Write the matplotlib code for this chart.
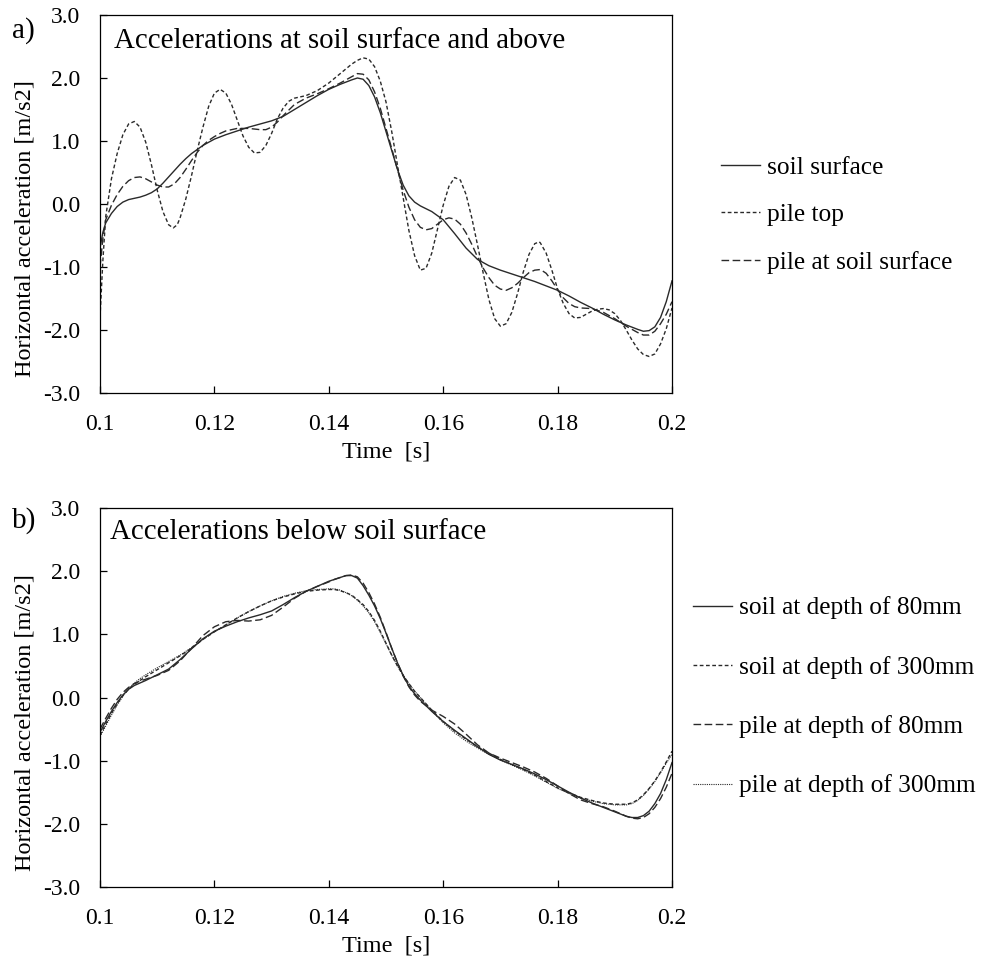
import matplotlib
matplotlib.use("Agg")
import matplotlib.pyplot as plt

plt.rcParams['font.family'] = ['Liberation Serif', 'DejaVu Serif']

# ---- panel a) accelerations at soil surface and above ----
t_soil_surf = [0.100, 0.1005, 0.101, 0.102, 0.103, 0.104, 0.105, 0.106, 0.107, 0.108,
               0.109, 0.110, 0.111, 0.112, 0.113, 0.114, 0.115, 0.116, 0.118, 0.120,
               0.122, 0.124, 0.126, 0.128, 0.130, 0.132, 0.134, 0.136, 0.138, 0.140,
               0.142, 0.144, 0.145, 0.146, 0.147, 0.148, 0.149, 0.150, 0.151, 0.152,
               0.153, 0.154, 0.155, 0.156, 0.158, 0.160, 0.162, 0.164, 0.166, 0.168,
               0.170, 0.172, 0.174, 0.176, 0.178, 0.180, 0.182, 0.184, 0.186, 0.188,
               0.190, 0.192, 0.194, 0.195, 0.196, 0.197, 0.198, 0.199, 0.200]
a_soil_surf = [-0.70, -0.45, -0.30, -0.15, -0.04, 0.03, 0.07, 0.09, 0.11, 0.14,
               0.18, 0.24, 0.33, 0.43, 0.53, 0.63, 0.72, 0.80, 0.93, 1.03,
               1.10, 1.16, 1.22, 1.27, 1.32, 1.39, 1.50, 1.61, 1.72, 1.82,
               1.90, 1.97, 2.00, 1.98, 1.88, 1.70, 1.45, 1.15, 0.85, 0.55,
               0.30, 0.13, 0.03, -0.03, -0.12, -0.25, -0.47, -0.70, -0.88, -0.98,
               -1.05, -1.11, -1.17, -1.23, -1.30, -1.37, -1.46, -1.56, -1.65, -1.75,
               -1.84, -1.92, -1.99, -2.02, -2.01, -1.95, -1.80, -1.55, -1.22]

t_pile_top = [0.100, 0.1005, 0.101, 0.102, 0.103, 0.104, 0.105, 0.106, 0.107, 0.108,
              0.109, 0.110, 0.111, 0.112, 0.1128, 0.1135, 0.114, 0.115, 0.116, 0.117,
              0.118, 0.119, 0.120, 0.121, 0.122, 0.123, 0.124, 0.125, 0.126, 0.127,
              0.128, 0.129, 0.130, 0.131, 0.132, 0.133, 0.134, 0.136, 0.138, 0.140,
              0.142, 0.144, 0.145, 0.146, 0.147, 0.148, 0.149, 0.150, 0.151, 0.152,
              0.153, 0.154, 0.155, 0.156, 0.157, 0.158, 0.159, 0.160, 0.161, 0.162,
              0.163, 0.164, 0.165, 0.166, 0.167, 0.168, 0.169, 0.170, 0.171, 0.172,
              0.173, 0.174, 0.175, 0.176, 0.1768, 0.177, 0.178, 0.179, 0.180, 0.181,
              0.182, 0.183, 0.184, 0.185, 0.186, 0.187, 0.188, 0.189, 0.190, 0.191,
              0.192, 0.193, 0.194, 0.195, 0.196, 0.197, 0.198, 0.199, 0.200]
a_pile_top = [-1.80, -0.90, -0.20, 0.40, 0.80, 1.10, 1.27, 1.31, 1.22, 0.98,
              0.62, 0.22, -0.12, -0.33, -0.38, -0.33, -0.22, 0.08, 0.45, 0.85,
              1.22, 1.55, 1.76, 1.82, 1.76, 1.58, 1.33, 1.08, 0.90, 0.81,
              0.82, 0.93, 1.12, 1.35, 1.52, 1.63, 1.68, 1.72, 1.80, 1.92,
              2.07, 2.22, 2.28, 2.32, 2.30, 2.18, 1.95, 1.62, 1.15, 0.62,
              0.10, -0.42, -0.82, -1.05, -1.02, -0.78, -0.40, -0.02, 0.28, 0.42,
              0.38, 0.15, -0.22, -0.65, -1.10, -1.52, -1.82, -1.94, -1.90, -1.72,
              -1.42, -1.08, -0.80, -0.63, -0.60, -0.62, -0.78, -1.05, -1.35, -1.58,
              -1.74, -1.81, -1.80, -1.75, -1.70, -1.67, -1.66, -1.68, -1.74, -1.85,
              -2.00, -2.16, -2.30, -2.39, -2.42, -2.38, -2.22, -1.98, -1.65]

t_pile_surf = [0.100, 0.1005, 0.101, 0.102, 0.103, 0.104, 0.105, 0.106, 0.107, 0.108,
               0.109, 0.110, 0.111, 0.112, 0.113, 0.114, 0.115, 0.116, 0.117, 0.118,
               0.119, 0.120, 0.121, 0.122, 0.124, 0.126, 0.128, 0.129, 0.130, 0.131,
               0.132, 0.134, 0.136, 0.138, 0.140, 0.142, 0.144, 0.145, 0.146, 0.147,
               0.148, 0.149, 0.150, 0.151, 0.152, 0.153, 0.154, 0.155, 0.156, 0.157,
               0.158, 0.159, 0.160, 0.161, 0.162, 0.163, 0.164, 0.165, 0.166, 0.167,
               0.168, 0.169, 0.170, 0.171, 0.172, 0.173, 0.174, 0.175, 0.176, 0.177,
               0.178, 0.179, 0.180, 0.181, 0.182, 0.183, 0.184, 0.186, 0.188, 0.190,
               0.192, 0.194, 0.195, 0.196, 0.197, 0.198, 0.199, 0.200]
a_pile_surf = [-1.00, -0.55, -0.25, -0.02, 0.15, 0.28, 0.37, 0.42, 0.43, 0.40,
               0.35, 0.30, 0.27, 0.27, 0.32, 0.42, 0.55, 0.69, 0.82, 0.93,
               1.01, 1.07, 1.12, 1.16, 1.20, 1.20, 1.18, 1.18, 1.22, 1.30,
               1.40, 1.58, 1.68, 1.75, 1.83, 1.92, 2.02, 2.07, 2.06, 1.97,
               1.78, 1.52, 1.20, 0.88, 0.55, 0.22, -0.05, -0.25, -0.37, -0.41,
               -0.39, -0.32, -0.25, -0.22, -0.24, -0.32, -0.46, -0.64, -0.84, -1.02,
               -1.17, -1.29, -1.35, -1.37, -1.33, -1.26, -1.17, -1.09, -1.05, -1.04,
               -1.10, -1.22, -1.36, -1.49, -1.58, -1.63, -1.65, -1.66, -1.72, -1.82,
               -1.94, -2.04, -2.08, -2.08, -2.02, -1.90, -1.75, -1.55]

# ---- panel b) accelerations below soil surface ----
t_below = [0.100, 0.101, 0.102, 0.103, 0.104, 0.105, 0.106, 0.107, 0.108, 0.110,
           0.112, 0.114, 0.116, 0.118, 0.120, 0.122, 0.124, 0.126, 0.128, 0.130,
           0.132, 0.134, 0.136, 0.138, 0.140, 0.141, 0.142, 0.143, 0.144, 0.145,
           0.146, 0.147, 0.148, 0.149, 0.150, 0.151, 0.152, 0.153, 0.154, 0.155,
           0.156, 0.158, 0.160, 0.162, 0.164, 0.166, 0.168, 0.170, 0.172, 0.174,
           0.176, 0.178, 0.180, 0.182, 0.184, 0.186, 0.188, 0.190, 0.192, 0.193,
           0.194, 0.195, 0.196, 0.197, 0.198, 0.199, 0.200]
a_soil_80 = [-0.55, -0.38, -0.22, -0.08, 0.04, 0.13, 0.19, 0.23, 0.27, 0.36,
             0.45, 0.60, 0.77, 0.93, 1.05, 1.13, 1.20, 1.26, 1.31, 1.37,
             1.47, 1.58, 1.68, 1.76, 1.84, 1.87, 1.90, 1.93, 1.93, 1.89,
             1.77, 1.62, 1.45, 1.25, 1.02, 0.78, 0.55, 0.35, 0.18, 0.06,
             -0.04, -0.22, -0.38, -0.52, -0.65, -0.78, -0.90, -0.99, -1.06, -1.13,
             -1.21, -1.30, -1.40, -1.50, -1.59, -1.67, -1.74, -1.81, -1.88, -1.90,
             -1.90, -1.87, -1.80, -1.68, -1.52, -1.30, -1.03]
a_soil_300 = [-0.60, -0.42, -0.25, -0.10, 0.03, 0.13, 0.21, 0.27, 0.33, 0.44,
              0.55, 0.66, 0.78, 0.92, 1.04, 1.15, 1.26, 1.36, 1.45, 1.53,
              1.59, 1.64, 1.68, 1.70, 1.71, 1.71, 1.69, 1.66, 1.62, 1.55,
              1.47, 1.36, 1.22, 1.05, 0.86, 0.67, 0.50, 0.35, 0.22, 0.10,
              0.00, -0.20, -0.38, -0.53, -0.66, -0.78, -0.88, -0.98, -1.06, -1.14,
              -1.23, -1.33, -1.43, -1.51, -1.58, -1.63, -1.67, -1.69, -1.69, -1.67,
              -1.62, -1.54, -1.44, -1.32, -1.18, -1.02, -0.85]
a_pile_80 = [-0.50, -0.33, -0.17, -0.03, 0.08, 0.16, 0.22, 0.26, 0.29, 0.35,
             0.43, 0.58, 0.78, 0.98, 1.12, 1.20, 1.22, 1.21, 1.23, 1.30,
             1.43, 1.57, 1.68, 1.76, 1.83, 1.87, 1.90, 1.93, 1.94, 1.91,
             1.81, 1.66, 1.48, 1.27, 1.03, 0.78, 0.55, 0.34, 0.17, 0.04,
             -0.06, -0.20, -0.30, -0.42, -0.58, -0.75, -0.88, -0.96, -1.03, -1.10,
             -1.18, -1.28, -1.40, -1.52, -1.62, -1.68, -1.73, -1.80, -1.88, -1.91,
             -1.92, -1.90, -1.84, -1.74, -1.60, -1.42, -1.20]
a_pile_300 = [-0.62, -0.45, -0.28, -0.12, 0.02, 0.14, 0.23, 0.30, 0.36, 0.47,
              0.57, 0.67, 0.79, 0.92, 1.04, 1.15, 1.26, 1.36, 1.45, 1.53,
              1.60, 1.65, 1.69, 1.71, 1.72, 1.72, 1.70, 1.66, 1.61, 1.54,
              1.45, 1.34, 1.20, 1.03, 0.85, 0.67, 0.50, 0.35, 0.22, 0.10,
              0.00, -0.21, -0.40, -0.56, -0.69, -0.80, -0.90, -0.99, -1.07, -1.15,
              -1.24, -1.34, -1.44, -1.52, -1.59, -1.64, -1.68, -1.70, -1.70, -1.68,
              -1.63, -1.55, -1.45, -1.33, -1.19, -1.04, -0.90]

x_ticks = [0.1, 0.12, 0.14, 0.16, 0.18, 0.2]
x_tick_labels = ['0.1', '0.12', '0.14', '0.16', '0.18', '0.2']
y_ticks = [-3, -2, -1, 0, 1, 2, 3]

line_col = '#2a2a2a'
W, H = 985, 964

fig = plt.figure(figsize=(W / 100, H / 100), dpi=100)
ax1 = fig.add_axes([100 / W, 1 - 393 / H, 572 / W, 378 / H])
ax2 = fig.add_axes([100 / W, 1 - 887 / H, 572 / W, 379 / H])


def style_axis(ax):
    ax.set_xlim(0.1, 0.2)
    ax.set_ylim(-3, 3)
    ax.set_xticks(x_ticks)
    ax.set_xticklabels(x_tick_labels)
    ax.set_yticks(y_ticks)
    ax.set_yticklabels([f'{v:.1f}' for v in y_ticks])
    ax.tick_params(direction='in', length=5, width=0.9, labelsize=17, colors='black')
    ax.tick_params(axis='x', pad=15)
    ax.tick_params(axis='y', pad=14)
    for s in ax.spines.values():
        s.set_linewidth(0.9)
        s.set_color('black')
    ax.set_xlabel('Time  [s]', fontsize=17.5, labelpad=5)
    ax.set_ylabel('Horizontal acceleration [m/s2]', fontsize=17.5)
    ax.yaxis.set_label_coords(-0.112, 0.435)


ax1.plot(t_soil_surf, a_soil_surf, color=line_col, lw=1.0, label='soil surface')
ax1.plot(t_pile_top, a_pile_top, color=line_col, lw=1.0, dashes=(2.7, 1.8), label='pile top')
ax1.plot(t_pile_surf, a_pile_surf, color=line_col, lw=1.0, dashes=(5.5, 2.5),
         label='pile at soil surface')
style_axis(ax1)
ax1.text(0.025, 0.93, 'Accelerations at soil surface and above', transform=ax1.transAxes,
         fontsize=20.8, va='center', ha='left')
fig.text(12 / W, 1 - 31 / H, 'a)', fontsize=21, va='center', ha='left')
fig.legend(handles=ax1.get_lines(), loc='center left', bbox_to_anchor=(721 / W, 1 - 215 / H),
           frameon=False, fontsize=18.3, handlelength=1.53, handletextpad=0.28,
           labelspacing=0.98, borderpad=0, borderaxespad=0)

ax2.plot(t_below, a_soil_80, color=line_col, lw=1.0, label='soil at depth of 80mm')
ax2.plot(t_below, a_soil_300, color=line_col, lw=1.0, dashes=(2.7, 1.8),
         label='soil at depth of 300mm')
ax2.plot(t_below, a_pile_80, color=line_col, lw=1.0, dashes=(5.5, 2.5),
         label='pile at depth of 80mm')
ax2.plot(t_below, a_pile_300, color=line_col, lw=0.8, dashes=(1, 1),
         label='pile at depth of 300mm')
style_axis(ax2)
ax2.text(0.018, 0.937, 'Accelerations below soil surface', transform=ax2.transAxes,
         fontsize=20.8, va='center', ha='left')
fig.text(12 / W, 1 - 521 / H, 'b)', fontsize=21, va='center', ha='left')
fig.legend(handles=ax2.get_lines(), loc='center left', bbox_to_anchor=(693 / W, 1 - 697 / H),
           frameon=False, fontsize=18.3, handlelength=1.53, handletextpad=0.28,
           labelspacing=1.43, borderpad=0, borderaxespad=0)

fig.savefig('out.png', dpi=100, facecolor='white')
